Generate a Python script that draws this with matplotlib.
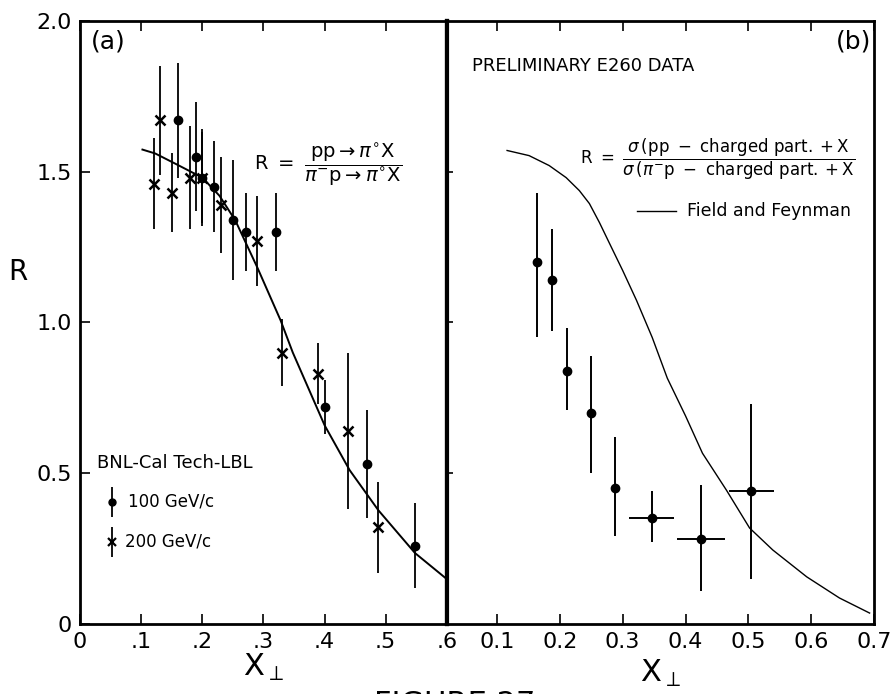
import numpy as np
import matplotlib.pyplot as plt

# panel (a): BNL-Cal Tech-LBL, R for pi0
x100 = [0.160, 0.190, 0.200, 0.219, 0.250, 0.272, 0.320, 0.400, 0.469, 0.548]
r100 = [1.67, 1.55, 1.48, 1.45, 1.34, 1.30, 1.30, 0.72, 0.53, 0.26]
e100 = [0.19, 0.18, 0.16, 0.15, 0.20, 0.13, 0.13, 0.09, 0.18, 0.14]

x200 = [0.121, 0.131, 0.151, 0.180, 0.200, 0.231, 0.290, 0.330, 0.389, 0.439, 0.488]
r200 = [1.46, 1.67, 1.43, 1.48, 1.48, 1.39, 1.27, 0.90, 0.83, 0.64, 0.32]
e200 = [0.15, 0.18, 0.13, 0.17, 0.15, 0.16, 0.15, 0.11, 0.10, 0.26, 0.15]

curve_a_x = [0.102, 0.123, 0.156, 0.200, 0.228, 0.254, 0.290, 0.328, 0.348,
             0.400, 0.441, 0.488, 0.548, 0.598]
curve_a_y = [1.573, 1.56, 1.526, 1.48, 1.42, 1.338, 1.182, 1.007, 0.90,
             0.659, 0.51, 0.377, 0.235, 0.152]

# panel (b): preliminary E260 data
xb = [0.164, 0.188, 0.211, 0.250, 0.287, 0.346, 0.425, 0.505]
rb = [1.20, 1.14, 0.84, 0.70, 0.45, 0.35, 0.28, 0.44]
rb_lo = [0.25, 0.17, 0.13, 0.20, 0.16, 0.08, 0.17, 0.29]
rb_hi = [0.23, 0.17, 0.14, 0.19, 0.17, 0.09, 0.18, 0.29]
xb_err = [0, 0, 0, 0, 0, 0.036, 0.038, 0.036]

curve_b_x = [0.116, 0.151, 0.183, 0.210, 0.231, 0.247, 0.263, 0.279, 0.300,
             0.322, 0.347, 0.371, 0.400, 0.427, 0.465, 0.502, 0.539, 0.593,
             0.645, 0.693]
curve_b_y = [1.57, 1.553, 1.52, 1.48, 1.437, 1.394, 1.331, 1.262, 1.172,
             1.073, 0.95, 0.815, 0.69, 0.566, 0.444, 0.318, 0.245, 0.156,
             0.086, 0.036]

fig = plt.figure(figsize=(8.9, 6.94), dpi=100)
ax1 = fig.add_axes([0.090, 0.101, 0.412, 0.869])
ax2 = fig.add_axes([0.502, 0.101, 0.480, 0.869])

for ax in (ax1, ax2):
    ax.set_ylim(0, 2.0)
    for s in ax.spines.values():
        s.set_linewidth(2.0)
    ax.tick_params(direction='in', length=7, width=1.2, labelsize=16, pad=6,
                   top=True, right=False)

# panel a
ax1.set_xlim(0, 0.6)
ax1.set_xticks([0, 0.1, 0.2, 0.3, 0.4, 0.5, 0.6])
ax1.set_xticklabels(['0', '.1', '.2', '.3', '.4', '.5', '.6'])
ax1.set_yticks([0, 0.5, 1.0, 1.5, 2.0])
ax1.set_yticklabels(['0', '0.5', '1.0', '1.5', '2.0'])
ax1.spines['right'].set_linewidth(3.0)

ax1.plot(curve_a_x, curve_a_y, color='black', lw=1.4)
ax1.errorbar(x100, r100, yerr=e100, fmt='o', color='black', ms=6,
             elinewidth=1.3, capsize=0)
ax1.errorbar(x200, r200, yerr=e200, fmt='x', color='black', ms=7, mew=1.8,
             elinewidth=1.3, capsize=0)

ax1.text(0.018, 1.93, '(a)', fontsize=18, va='center')
ax1.text(0.285, 1.52,
         r'$\mathrm{R\ =\ }\dfrac{\mathrm{pp}\rightarrow\pi^{\circ}\mathrm{X}}{\pi^{-}\mathrm{p}\rightarrow\pi^{\circ}\mathrm{X}}$',
         fontsize=14, va='center')
ax1.text(0.028, 0.535, 'BNL-Cal Tech-LBL', fontsize=13, va='center')
ax1.errorbar([0.052], [0.405], yerr=[0.05], fmt='o', color='black', ms=5,
             elinewidth=1.3, capsize=0)
ax1.text(0.078, 0.405, '100 GeV/c', fontsize=12, va='center')
ax1.errorbar([0.052], [0.272], yerr=[0.05], fmt='x', color='black', ms=6, mew=1.6,
             elinewidth=1.3, capsize=0)
ax1.text(0.074, 0.272, '200 GeV/c', fontsize=12, va='center')

ax1.set_xlabel(r'$\mathrm{X}_{\perp}$', fontsize=22, labelpad=0)
ax1.set_ylabel('R', fontsize=20, rotation=0)
ax1.yaxis.set_label_coords(-0.17, 0.56)

# panel b
ax2.set_xlim(0.02, 0.7)
ax2.set_xticks([0.1, 0.2, 0.3, 0.4, 0.5, 0.6, 0.7])
ax2.set_xticklabels(['0.1', '0.2', '0.3', '0.4', '0.5', '0.6', '0.7'])
ax2.set_yticks([0.5, 1.0, 1.5])
ax2.tick_params(axis='y', labelleft=False, length=4)
ax2.spines['left'].set_linewidth(3.0)

ax2.plot(curve_b_x, curve_b_y, color='black', lw=1.0)
ax2.errorbar(xb, rb, yerr=[rb_lo, rb_hi], xerr=xb_err, fmt='o', color='black',
             ms=6, elinewidth=1.4, capsize=0)

ax2.text(0.06, 1.85, 'PRELIMINARY E260 DATA', fontsize=13, va='center')
ax2.text(0.695, 1.93, '(b)', fontsize=18, va='center', ha='right')
ax2.text(0.232, 1.54,
         r'$\mathrm{R\ =\ }\dfrac{\sigma\,(\mathrm{pp\ -\ charged\ part.+X}}{\sigma\,(\pi^{-}\mathrm{p\ -\ charged\ part.+X}}$',
         fontsize=12, va='center')
ax2.plot([0.322, 0.385], [1.37, 1.37], color='black', lw=1.0)
ax2.text(0.403, 1.37, 'Field and Feynman', fontsize=12.5, va='center')
ax2.set_xlabel(r'$\mathrm{X}_{\perp}$', fontsize=22, labelpad=4)

fig.text(0.42, 1 - 690 / 694, 'FIGURE 27', fontsize=22, va='top')

fig.savefig('out.png', dpi=100)
